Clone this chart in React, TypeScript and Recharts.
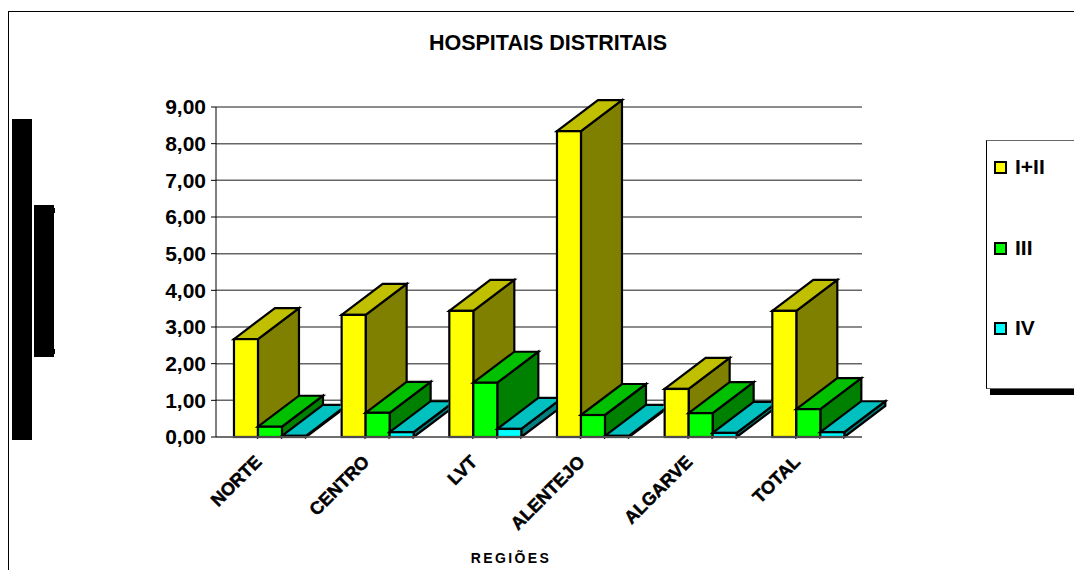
import React from 'react';
import { BarChart, Bar, XAxis, YAxis, CartesianGrid } from 'recharts';

const categories = ['NORTE', 'CENTRO', 'LVT', 'ALENTEJO', 'ALGARVE', 'TOTAL'];
const seriesI = [2.67, 3.33, 3.44, 8.34, 1.31, 3.44];
const seriesIII = [0.28, 0.66, 1.48, 0.6, 0.65, 0.76];
const seriesIV = [0.03, 0.13, 0.22, 0.03, 0.11, 0.13];
const yTicks = [0, 1, 2, 3, 4, 5, 6, 7, 8, 9];

const data = categories.map((name, i) => ({
  name,
  'I+II': seriesI[i],
  III: seriesIII[i],
  IV: seriesIV[i],
}));

const FONT = '"Liberation Sans", Arial, sans-serif';
const DX = 41;
const DY = 31;
const STEP = 107.67;

const legendItems = [
  { label: 'I+II', color: '#FFFF00', y: 167 },
  { label: 'III', color: '#00FF00', y: 248 },
  { label: 'IV', color: '#00FFFF', y: 328 },
];

function make3D(front: string, top: string, side: string, clipNext: boolean) {
  return function Shape(props: any) {
    const { x, y, width: w, height: h, index } = props;
    const clip = clipNext && index < categories.length - 1;
    const id = `clip-${index}`;
    const sw = { stroke: '#000', strokeWidth: 2.2, strokeLinejoin: 'miter' as const };
    return (
      <g clipPath={clip ? `url(#${id})` : undefined}>
        {clip && (
          <clipPath id={id}>
            <rect x={x - 3} y={y - DY - 4} width={STEP - 2 * w + 2} height={h + DY + 8} />
          </clipPath>
        )}
        <polygon
          points={`${x + w},${y} ${x + w + DX},${y - DY} ${x + w + DX},${y + h - DY} ${x + w},${y + h}`}
          fill={side}
          {...sw}
        />
        <polygon
          points={`${x},${y} ${x + DX},${y - DY} ${x + w + DX},${y - DY} ${x + w},${y}`}
          fill={top}
          {...sw}
        />
        <rect x={x} y={y} width={w} height={h} fill={front} {...sw} />
      </g>
    );
  };
}

const XTick = (props: any) => {
  const { x, y, payload } = props;
  return (
    <text
      x={x - 7}
      y={y + 18}
      transform={`rotate(-45 ${x - 7} ${y + 18})`}
      textAnchor="end"
      fontFamily={FONT}
      fontWeight="bold"
      fontSize={18}
      fill="#000"
      stroke="#000"
      strokeWidth={0.5}
    >
      {payload.value}
    </text>
  );
};

export default function App() {
  return (
    <div style={{ position: 'absolute', left: 0, top: 0, width: 1074, height: 570, overflow: 'hidden', background: '#fff', fontFamily: FONT }}>
      <div style={{ position: 'absolute', left: 8, top: 11, width: 1066, height: 559, borderLeft: '1px solid #000', borderTop: '1px solid #000', boxSizing: 'border-box' }} />
      <div style={{ position: 'absolute', left: 12, top: 119, width: 20, height: 321, background: '#000' }} />
      <div style={{ position: 'absolute', left: 34, top: 205, width: 20, height: 152, background: '#000' }} />
      <div style={{ position: 'absolute', left: 54, top: 208, width: 1, height: 5, background: '#000' }} />
      <div style={{ position: 'absolute', left: 54, top: 349, width: 1, height: 5, background: '#000' }} />
      <div style={{ position: 'absolute', left: 0, top: 0 }}>
        <BarChart
          width={1074}
          height={570}
          data={data}
          margin={{ top: 107, right: 212, bottom: 0, left: 0 }}
          barCategoryGap="16.7%"
          barGap={0}
        >
          <CartesianGrid vertical={false} stroke="#666" strokeWidth={1.5} />
          <XAxis
            dataKey="name"
            height={133}
            interval={0}
            tick={<XTick />}
            tickLine={false}
            axisLine={{ stroke: '#666', strokeWidth: 1.5 }}
          />
          <YAxis
            width={216}
            domain={[0, 9]}
            ticks={yTicks}
            interval={0}
            tickFormatter={(v: number) => v.toFixed(2).replace('.', ',')}
            tick={{ fill: '#000', fontFamily: FONT, fontWeight: 'bold', fontSize: 21 }}
            tickSize={5}
            tickMargin={5}
            tickLine={{ stroke: '#000' }}
            axisLine={{ stroke: '#000', strokeWidth: 1 }}
          />
          <Bar dataKey="I+II" isAnimationActive={false} shape={make3D('#FFFF00', '#C0C000', '#808000', false)} />
          <Bar dataKey="III" isAnimationActive={false} shape={make3D('#00FF00', '#00C000', '#008000', false)} />
          <Bar dataKey="IV" isAnimationActive={false} shape={make3D('#00FFFF', '#00C0C0', '#008080', true)} />
        </BarChart>
      </div>
      <div style={{ position: 'absolute', left: 348, width: 400, top: 31, textAlign: 'center', fontWeight: 'bold', fontSize: 21.5, lineHeight: '24px' }}>HOSPITAIS DISTRITAIS</div>
      <div style={{ position: 'absolute', left: 361, width: 300, top: 550, textAlign: 'center', fontWeight: 'bold', fontSize: 14, letterSpacing: 2.4, lineHeight: '16px' }}>REGIÕES</div>
      <div style={{ position: 'absolute', left: 990, top: 144, width: 90, height: 251, background: '#000' }} />
      <div style={{ position: 'absolute', left: 986, top: 140, width: 90, height: 249, background: '#fff', borderLeft: '1px solid #000', borderTop: '1px solid #666', borderBottom: '1px solid #666', boxSizing: 'border-box' }} />
      {legendItems.map((it) => (
        <React.Fragment key={it.label}>
          <div style={{ position: 'absolute', left: 994, top: it.y - 6, width: 13, height: 13, background: it.color, border: '2px solid #000', boxSizing: 'border-box' }} />
          <div style={{ position: 'absolute', left: 1015, top: it.y - 11, fontWeight: 'bold', fontSize: 21, lineHeight: '22px' }}>{it.label}</div>
        </React.Fragment>
      ))}
    </div>
  );
}
